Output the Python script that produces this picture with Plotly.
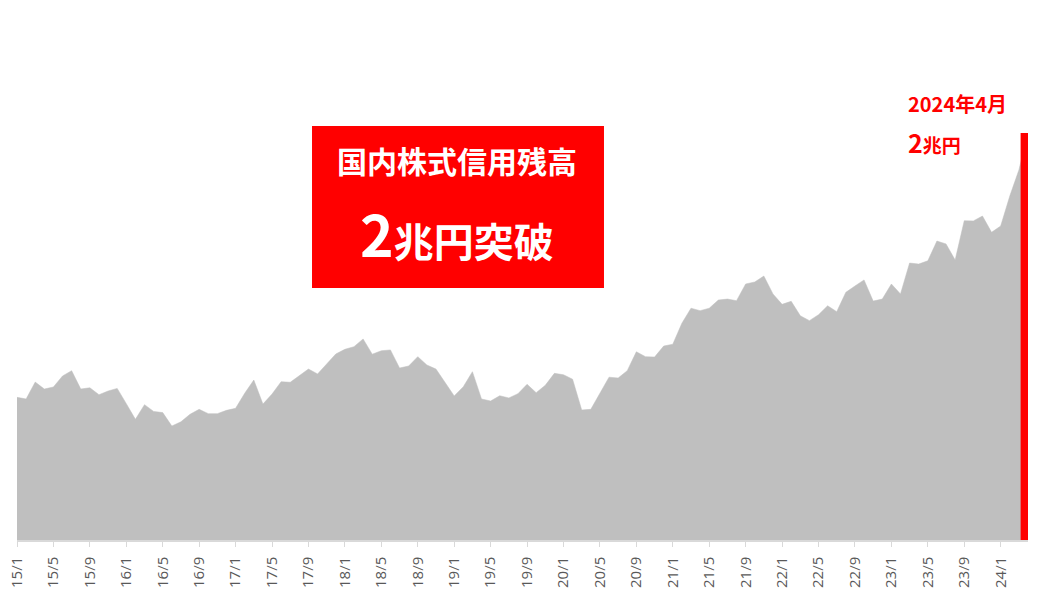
import plotly.graph_objects as go

# Monthly balance (兆円), 2015/1 .. 2024/4
values = [
    0.701, 0.693, 0.776, 0.742, 0.752, 0.806, 0.832, 0.742, 0.748, 0.714, 0.732, 0.745,  # 2015
    0.670, 0.593, 0.665, 0.632, 0.626, 0.560, 0.581, 0.618, 0.642, 0.621, 0.621, 0.637,  # 2016
    0.647, 0.721, 0.786, 0.668, 0.717, 0.778, 0.775, 0.807, 0.840, 0.816, 0.865, 0.914,  # 2017
    0.937, 0.950, 0.988, 0.913, 0.930, 0.934, 0.845, 0.855, 0.901, 0.860, 0.840, 0.775,  # 2018
    0.708, 0.753, 0.827, 0.693, 0.683, 0.709, 0.698, 0.719, 0.765, 0.724, 0.760, 0.819,  # 2019
    0.812, 0.790, 0.639, 0.642, 0.721, 0.800, 0.796, 0.832, 0.925, 0.901, 0.899, 0.953,  # 2020
    0.962, 1.065, 1.139, 1.127, 1.139, 1.179, 1.184, 1.176, 1.258, 1.268, 1.297, 1.209,  # 2021
    1.158, 1.173, 1.102, 1.078, 1.107, 1.151, 1.122, 1.217, 1.248, 1.278, 1.174, 1.184,  # 2022
    1.258, 1.209, 1.361, 1.356, 1.372, 1.469, 1.455, 1.376, 1.569, 1.568, 1.592, 1.512,  # 2023
    1.543, 1.690, 1.818, 2.000,                                                          # 2024
]
months = list(range(len(values)))

tick_labels = [
    "15/1", "15/5", "15/9", "16/1", "16/5", "16/9", "17/1", "17/5", "17/9",
    "18/1", "18/5", "18/9", "19/1", "19/5", "19/9", "20/1", "20/5", "20/9",
    "21/1", "21/5", "21/9", "22/1", "22/5", "22/9", "23/1", "23/5", "23/9", "24/1",
]
tick_positions = [i * 4 for i in range(len(tick_labels))]

# latest month highlighted by a red column drawn just left of the last point
last_x = months[-1]
last_y = values[-1]
bar_half = 0.4

fig = go.Figure()
fig.add_trace(go.Scatter(
    x=months, y=values, mode="lines", fill="tozeroy",
    line=dict(color="#bfbfbf", width=0.5), fillcolor="#bfbfbf",
    hoverinfo="skip", showlegend=False,
))
fig.add_trace(go.Scatter(
    x=[last_x - bar_half, last_x - bar_half], y=[0, last_y], mode="lines",
    line=dict(color="#ff0000", width=7.5), hoverinfo="skip", showlegend=False,
    cliponaxis=False,
))

fig.update_layout(
    width=1040, height=592,
    margin=dict(l=9, r=20, t=32, b=60, autoexpand=False),
    paper_bgcolor="white", plot_bgcolor="white",
    showlegend=False,
    font=dict(family="Noto Sans CJK JP, Noto Sans, sans-serif"),
    xaxis=dict(
        range=[0, months[-1]], automargin=False,
        tickmode="array", tickvals=tick_positions, ticktext=tick_labels,
        tickangle=-90, ticks="outside", ticklen=5, tickcolor="#d9d9d9", tickwidth=1,
        ticklabeloverflow="allow", ticklabelstandoff=4,
        showline=True, linecolor="#d9d9d9", linewidth=1.5,
        showgrid=False, zeroline=False,
        tickfont=dict(family="Open Sans, Noto Sans, sans-serif", size=15, color="#595959"),
    ),
    yaxis=dict(range=[0, 2.457], visible=False, showgrid=False, zeroline=False, automargin=False),
)

# Red title box
fig.add_shape(type="rect", xref="paper", yref="paper",
              x0=0.2918, x1=0.5806, y0=0.504, y1=0.828,
              fillcolor="#ff0000", line=dict(width=0), layer="above")

fig.add_annotation(xref="paper", yref="paper", x=0.4352, y=0.76,
                   text="<b>国内株式信用残高</b>", showarrow=False,
                   font=dict(family="Noto Sans CJK JP", size=30, color="white"),
                   xanchor="center", yanchor="middle")
fig.add_annotation(xref="paper", yref="paper", x=0.4352, y=0.616,
                   text="<b><span style='font-size:57px'>2</span>兆円突破</b>", showarrow=False,
                   font=dict(family="Noto Sans CJK JP", size=40, color="white"),
                   xanchor="center", yanchor="middle")

# Latest value annotation
fig.add_annotation(xref="paper", yref="paper", x=0.879, y=0.874,
                   text="<b>2024年4月</b>", showarrow=False,
                   font=dict(family="Noto Sans CJK JP", size=20, color="#ff0000"),
                   xanchor="left", yanchor="middle")
fig.add_annotation(xref="paper", yref="paper", x=0.879, y=0.796,
                   text="<b><span style='font-size:25px'>2</span>兆円</b>", showarrow=False,
                   font=dict(family="Noto Sans CJK JP", size=19, color="#ff0000"),
                   xanchor="left", yanchor="middle")

fig.write_html("out.html")
